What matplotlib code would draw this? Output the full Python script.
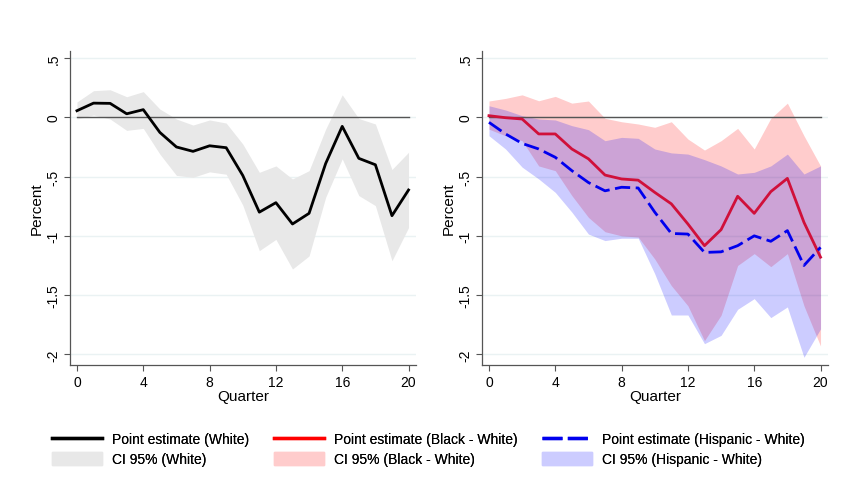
import matplotlib
matplotlib.use("Agg")
import matplotlib.pyplot as plt
from matplotlib.lines import Line2D
from matplotlib.patches import Patch
import numpy as np

plt.rcParams['font.family'] = ['Liberation Sans', 'DejaVu Sans']

quarters = np.arange(21)

# White: point estimate and 95% CI
white_est = [0.056, 0.12, 0.118, 0.03, 0.065, -0.127, -0.25, -0.287, -0.24, -0.256, -0.49,
             -0.80, -0.72, -0.90, -0.81, -0.39, -0.076, -0.346, -0.40, -0.83, -0.613]
white_hi = [0.13, 0.225, 0.233, 0.174, 0.217, 0.07, -0.014, -0.065, -0.022, -0.048, -0.225,
            -0.464, -0.41, -0.52, -0.45, -0.10, 0.19, -0.01, -0.056, -0.44, -0.295]
white_lo = [-0.014, 0.02, -0.014, -0.11, -0.093, -0.31, -0.49, -0.506, -0.46, -0.48, -0.74,
            -1.125, -1.03, -1.28, -1.17, -0.675, -0.35, -0.66, -0.745, -1.21, -0.93]

# Black - White gap
black_est = [0.014, -0.003, -0.014, -0.14, -0.14, -0.267, -0.35, -0.487, -0.52, -0.53, -0.633,
             -0.73, -0.90, -1.083, -0.948, -0.666, -0.81, -0.627, -0.515, -0.886, -1.18]
black_hi = [0.138, 0.16, 0.19, 0.14, 0.177, 0.12, 0.138, -0.008, -0.037, -0.056, -0.084,
            -0.037, -0.183, -0.276, -0.197, -0.093, -0.267, -0.008, 0.12, -0.155, -0.41]
black_lo = [-0.10, -0.155, -0.197, -0.41, -0.45, -0.66, -0.844, -0.965, -1.0, -1.01, -1.195,
            -1.42, -1.59, -1.884, -1.67, -1.25, -1.15, -1.26, -1.15, -1.59, -1.93]

# Hispanic - White gap
hisp_est = [-0.042, -0.14, -0.22, -0.267, -0.337, -0.45, -0.55, -0.62, -0.59, -0.596, -0.80,
            -0.98, -0.985, -1.14, -1.135, -1.083, -1.0, -1.046, -0.956, -1.25, -1.097]
hisp_hi = [0.098, 0.062, 0.014, -0.014, -0.022, -0.07, -0.104, -0.197, -0.169, -0.177, -0.267,
           -0.30, -0.31, -0.357, -0.41, -0.478, -0.464, -0.41, -0.31, -0.478, -0.41]
hisp_lo = [-0.155, -0.267, -0.42, -0.52, -0.633, -0.80, -0.985, -1.04, -1.02, -1.02, -1.32,
           -1.668, -1.668, -1.91, -1.84, -1.62, -1.53, -1.69, -1.60, -2.025, -1.785]

yticks = [0.5, 0, -0.5, -1, -1.5, -2]
ytick_labels = ['.5', '0', '-.5', '-1', '-1.5', '-2']
xticks = [0, 4, 8, 12, 16, 20]

grey_fill = '#e8e8e8'
red_fill = (1.0, 0.0, 0.0, 0.2)
blue_fill = (0.0, 0.0, 1.0, 0.2)
red_line = '#d0103a'
blue_line = '#0000ee'

fig = plt.figure(figsize=(8.44, 4.89), dpi=100)
ax1 = fig.add_axes([70 / 844, 123 / 489, 346 / 844, 314 / 489])
ax2 = fig.add_axes([482 / 844, 123 / 489, 346 / 844, 314 / 489])


def style_axes(ax):
    ax.set_xlim(-0.42, 20.45)
    ax.set_ylim(-2.09, 0.56)
    ax.set_yticks(yticks)
    ax.set_yticklabels(ytick_labels, rotation=90, va='center')
    ax.set_xticks(xticks)
    for s in ['top', 'right']:
        ax.spines[s].set_visible(False)
    for s in ['left', 'bottom']:
        ax.spines[s].set_color('#555555')
        ax.spines[s].set_linewidth(0.9)
    ax.tick_params(axis='both', labelsize=10, color='#555555', length=4, width=0.8, pad=3)
    ax.grid(axis='y', color='#eaf2f3', linewidth=1.0)
    ax.set_axisbelow(True)
    ax.plot([0, 20], [0, 0], color='#555555', linewidth=1.0, zorder=3)
    ax.set_xlabel('Quarter', fontsize=11, labelpad=0)
    ax.set_ylabel('Percent', fontsize=11, labelpad=2)


style_axes(ax1)
ax1.fill_between(quarters, white_lo, white_hi, color=grey_fill, linewidth=0, zorder=2)
ax1.plot(quarters, white_est, color='black', linewidth=2.0, zorder=4)

style_axes(ax2)
ax2.fill_between(quarters, black_lo, black_hi, color=red_fill, linewidth=0, zorder=2)
ax2.fill_between(quarters, hisp_lo, hisp_hi, color=blue_fill, linewidth=0, zorder=2)
ax2.plot(quarters, black_est, color=red_line, linewidth=2.0, zorder=4)
ax2.plot(quarters, hisp_est, color=blue_line, linewidth=2.0, dashes=(5.5, 2), zorder=4)

# legend: three columns of line + band
groups = [
    (Line2D([], [], color='black', linewidth=2.4), 'Point estimate (White)',
     Patch(color=grey_fill), 'CI 95% (White)', 52),
    (Line2D([], [], color='red', linewidth=2.4), 'Point estimate (Black - White)',
     Patch(color=(1.0, 0.8, 0.8)), 'CI 95% (Black - White)', 274),
    (Line2D([], [], color=blue_line, linewidth=2.4, dashes=(6, 1.6)), 'Point estimate (Hispanic - White)',
     Patch(color=(0.8, 0.8, 1.0)), 'CI 95% (Hispanic - White)', 542),
]
for line_h, line_lab, patch_h, patch_lab, xpix in groups:
    leg = fig.legend([line_h, patch_h], [line_lab, patch_lab],
                     loc='upper left', bbox_to_anchor=(xpix / 844, 1 - 433 / 489),
                     frameon=False, fontsize=10, handlelength=3.6, handleheight=1.0,
                     handletextpad=0.7, labelspacing=0.45, borderaxespad=0, borderpad=0)
    fig.add_artist(leg)

fig.savefig('out.png', dpi=100)
